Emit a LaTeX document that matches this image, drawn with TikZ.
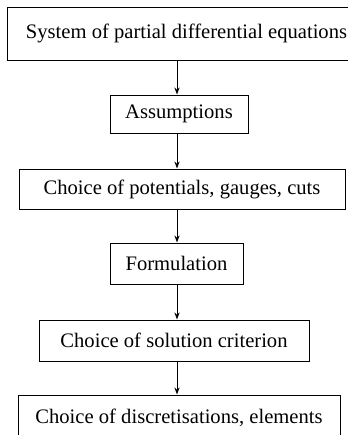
\documentclass[tikz,border=0pt]{standalone}
\usepackage{fontspec}
\setmainfont{Liberation Serif}
\usetikzlibrary{arrows.meta}
\begin{document}
\begin{tikzpicture}[x=0.5pt, y=-0.5pt,
    box/.style={draw, line width=0.5pt, inner sep=0pt,
      font=\fontsize{10.3}{12}\selectfont},
    arr/.style={-{Stealth[length=3.5pt, width=2.6pt]}, line width=0.5pt}]
  \useasboundingbox (0,0) rectangle (348,435);
  \def\ax{177}
  \coordinate (axis) at (\ax,0);
  % the chain of steps, top to bottom
  \node[box, minimum width=178.5pt, minimum height=26.5pt] (pde) at (186.5,33.5)
    {System of partial differential equations};
  \node[box, minimum width=69pt, minimum height=19pt] (assume) at (179,114)
    {Assumptions};
  \node[box, minimum width=163pt, minimum height=20pt] (potentials) at (182,189)
    {Choice of potentials, gauges, cuts};
  \node[box, minimum width=66.5pt, minimum height=20.5pt] (formul) at (176.5,263.5)
    {Formulation};
  \node[box, minimum width=135pt, minimum height=20.5pt] (criterion) at (174,340.5)
    {Choice of solution criterion};
  \node[box, minimum width=161pt, minimum height=22.5pt] (discret) at (179,417.5)
    {Choice of discretisations, elements};
  \draw[arr] (pde.south -| axis) -- (assume.north -| axis);
  \draw[arr] (assume.south -| axis) -- (potentials.north -| axis);
  \draw[arr] (potentials.south -| axis) -- (formul.north -| axis);
  \draw[arr] (formul.south -| axis) -- (criterion.north -| axis);
  \draw[arr] (criterion.south -| axis) -- (discret.north -| axis);
\end{tikzpicture}
\end{document}
